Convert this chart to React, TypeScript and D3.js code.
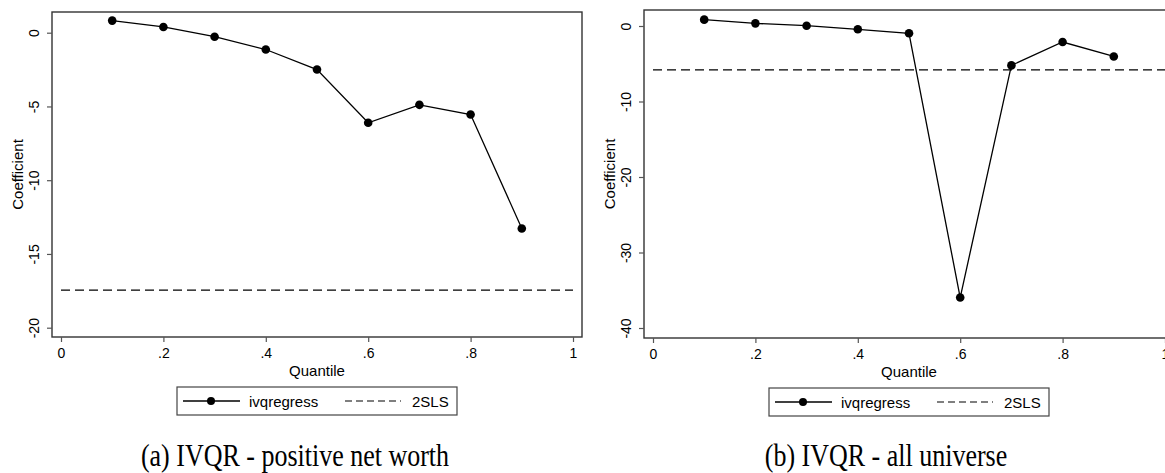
import React, { useEffect, useRef } from "react";
import * as d3 from "d3";

// quantiles at which the IVQR coefficient is estimated
const quantiles = [0.1, 0.2, 0.3, 0.4, 0.5, 0.6, 0.7, 0.8, 0.9];

// (a) positive net worth
const coefPositive = [0.82, 0.39, -0.27, -1.14, -2.5, -6.11, -4.89, -5.55, -13.27];
const tslsPositive = -17.45;
const yTicksPositive = [0, -5, -10, -15, -20];

// (b) all universe
const coefAll = [0.84, 0.35, 0.04, -0.44, -0.97, -35.97, -5.22, -2.12, -4.03];
const tslsAll = -5.8;
const yTicksAll = [0, -10, -20, -30, -40];

const xTicks = [0, 0.2, 0.4, 0.6, 0.8, 1];
const xTickLabels = ["0", ".2", ".4", ".6", ".8", "1"];
const legendLabels = ["ivqregress", "2SLS"];
const captions = ["(a) IVQR - positive net worth", "(b) IVQR - all universe"];

const W = 1165;
const H = 473;
const sans = "'Liberation Sans', Arial, Helvetica, sans-serif";
const serif = "'Liberation Serif', 'DejaVu Serif', serif";

function drawPanel(svg, opt) {
  const { box, xRange, yRange, yDomain, yTicks, coef, tsls, caption, captionX } = opt;
  const x = d3.scaleLinear().domain([0, 1]).range(xRange);
  const y = d3.scaleLinear().domain(yDomain).range(yRange);
  const g = svg.append("g");

  // plot region
  g.append("rect")
    .attr("x", box.left).attr("y", box.top)
    .attr("width", box.width).attr("height", box.height)
    .attr("fill", "#fff").attr("stroke", "#333").attr("stroke-width", 1.4);

  // y axis (plain hyphen minus like Stata)
  const yAxis = g.append("g").attr("transform", `translate(${box.left},0)`)
    .call(d3.axisLeft(y).tickValues(yTicks).tickSize(5).tickPadding(0).tickFormat((d) => String(d)));
  yAxis.select(".domain").remove();
  yAxis.selectAll("line").attr("stroke", "#555").attr("stroke-width", 1.2);
  yAxis.selectAll("text")
    .attr("x", null).attr("dy", null)
    .attr("transform", `translate(-18,0) rotate(-90)`)
    .attr("text-anchor", "middle")
    .attr("dominant-baseline", "central")
    .attr("font-family", sans).attr("font-size", 14).attr("fill", "#000");

  // x axis
  const xAxis = g.append("g").attr("transform", `translate(0,${box.top + box.height})`)
    .call(d3.axisBottom(x).tickValues(xTicks).tickSize(5).tickPadding(0)
      .tickFormat((d, i) => xTickLabels[i]));
  xAxis.select(".domain").remove();
  xAxis.selectAll("line").attr("stroke", "#555").attr("stroke-width", 1.2);
  xAxis.selectAll("text")
    .attr("y", 21).attr("dy", null)
    .attr("font-family", sans).attr("font-size", 14).attr("fill", "#000");

  const cx = box.left + box.width / 2;

  g.append("text")
    .attr("transform", `translate(${box.left - 35},${box.top + box.height / 2}) rotate(-90)`)
    .attr("text-anchor", "middle").attr("dominant-baseline", "central")
    .attr("font-family", sans).attr("font-size", 15)
    .text("Coefficient");

  g.append("text")
    .attr("x", cx).attr("y", box.top + box.height + 39)
    .attr("text-anchor", "middle")
    .attr("font-family", sans).attr("font-size", 15)
    .text("Quantile");

  // 2SLS reference line
  g.append("line")
    .attr("x1", x(0)).attr("x2", x(1))
    .attr("y1", y(tsls)).attr("y2", y(tsls))
    .attr("stroke", "#000").attr("stroke-width", 1.3)
    .attr("stroke-dasharray", "9,5");

  // ivqregress line + markers
  const line = d3.line().x((d, i) => x(quantiles[i])).y((d) => y(d));
  g.append("path")
    .attr("d", line(coef))
    .attr("fill", "none").attr("stroke", "#000").attr("stroke-width", 1.3);
  g.selectAll("circle.pt").data(coef).enter().append("circle")
    .attr("class", "pt")
    .attr("cx", (d, i) => x(quantiles[i])).attr("cy", (d) => y(d))
    .attr("r", 4.3).attr("fill", "#000");

  // legend
  const lw = 280, lh = 28;
  const lx = cx - lw / 2, ly = box.top + box.height + 50;
  const lg = g.append("g").attr("transform", `translate(${lx},${ly})`);
  lg.append("rect").attr("width", lw).attr("height", lh)
    .attr("fill", "#fff").attr("stroke", "#444").attr("stroke-width", 1.2);
  lg.append("line").attr("x1", 6).attr("x2", 63).attr("y1", lh / 2).attr("y2", lh / 2)
    .attr("stroke", "#000").attr("stroke-width", 1.3);
  lg.append("circle").attr("cx", 34).attr("cy", lh / 2).attr("r", 4).attr("fill", "#000");
  lg.append("text").attr("x", 72).attr("y", lh / 2).attr("dominant-baseline", "central")
    .attr("font-family", sans).attr("font-size", 15).text(legendLabels[0]);
  lg.append("line").attr("x1", 168).attr("x2", 224).attr("y1", lh / 2).attr("y2", lh / 2)
    .attr("stroke", "#000").attr("stroke-width", 1.2).attr("stroke-dasharray", "7,4");
  lg.append("text").attr("x", 235).attr("y", lh / 2).attr("dominant-baseline", "central")
    .attr("font-family", sans).attr("font-size", 15).text(legendLabels[1]);

  // subfigure caption
  g.append("text")
    .attr("transform", `translate(${captionX},466) scale(1,1.2)`)
    .attr("text-anchor", "middle")
    .attr("font-family", serif).attr("font-size", 26)
    .text(caption);
}

export default function App() {
  const ref = useRef(null);

  useEffect(() => {
    const svg = d3.select(ref.current);
    svg.selectAll("*").remove();

    drawPanel(svg, {
      box: { left: 52, top: 12, width: 530, height: 325 },
      xRange: [61, 573],
      yRange: [32.7, 327.7],
      yDomain: [0, -20],
      yTicks: yTicksPositive,
      coef: coefPositive,
      tsls: tslsPositive,
      caption: captions[0],
      captionX: 295,
    });

    drawPanel(svg, {
      box: { left: 644, top: 10, width: 530, height: 328 },
      xRange: [653, 1165],
      yRange: [26, 328],
      yDomain: [0, -40],
      yTicks: yTicksAll,
      coef: coefAll,
      tsls: tslsAll,
      caption: captions[1],
      captionX: 886,
    });
  }, []);

  return (
    <svg
      ref={ref}
      width={W}
      height={H}
      style={{ position: "absolute", left: 0, top: 0, background: "#fff" }}
    />
  );
}
